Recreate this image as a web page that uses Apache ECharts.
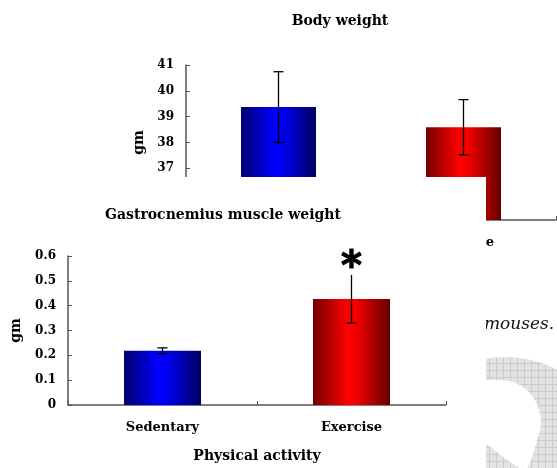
<!DOCTYPE html>
<html><head><meta charset="utf-8">
<script src="https://cdn.jsdelivr.net/npm/echarts@6/dist/echarts.min.js"></script>
<style>
html,body{margin:0;padding:0;background:#fff;}
#topChart{position:absolute;left:0;top:0;width:557px;height:468px;}
#bottomChart{position:absolute;left:0;top:177px;width:486px;height:291px;background:#fff;}
</style></head><body>
<div id="topChart"></div><div id="bottomChart"></div>
<script>
// ---- data ----
const categories = ['Sedentary', 'Exercise'];
const bodyWeightMean = [39.37, 38.59];
const bodyWeightErr = [1.37, 1.07];
const bodyAxis = { min: 35, max: 41, interval: 1 };
const bodyCapHigh = [true, true];
const gastroMean = [0.218, 0.427];
const gastroErr = [0.012, 0.097];
const gastroAxis = { min: 0, max: 0.6, interval: 0.1 };
const gastroCapHigh = [true, false];
const gastroMarks = ['', '*'];
const bodyTitle = 'Body weight';
const gastroTitle = 'Gastrocnemius muscle weight';
const xName = 'Physical activity';
const yName = 'gm';
const captionFragment = 'mouses.';

const SERIF = '"DejaVu Serif", "Liberation Serif", serif';
const blueGrad = { type: 'linear', x: 0, y: 0, x2: 1, y2: 0, colorStops: [
  { offset: 0, color: '#000070' }, { offset: 0.45, color: '#0000ff' }, { offset: 0.55, color: '#0000f4' }, { offset: 1, color: '#000060' }] };
const redGrad = { type: 'linear', x: 0, y: 0, x2: 1, y2: 0, colorStops: [
  { offset: 0, color: '#740000' }, { offset: 0.45, color: '#ff0000' }, { offset: 0.55, color: '#f60000' }, { offset: 1, color: '#660000' }] };
const barColors = [blueGrad, redGrad];

function errorSeries(means, errs, capHigh, marks) {
  return {
    type: 'custom',
    z: 5,
    data: means.map((m, i) => [i, m - errs[i], m + errs[i]]),
    encode: { x: 0, y: [1, 2] },
    renderItem(params, api) {
      const i = api.value(0);
      const lo = api.coord([i, api.value(1)]);
      const hi = api.coord([i, api.value(2)]);
      const hw = 5;
      const st = { stroke: '#000', lineWidth: 1.3 };
      const children = [
        { type: 'line', shape: { x1: lo[0], y1: lo[1], x2: hi[0], y2: hi[1] }, style: st },
        { type: 'line', shape: { x1: lo[0] - hw, y1: lo[1], x2: lo[0] + hw, y2: lo[1] }, style: st }
      ];
      if (capHigh[i]) children.push({ type: 'line', shape: { x1: hi[0] - hw, y1: hi[1], x2: hi[0] + hw, y2: hi[1] }, style: st });
      if (marks && marks[i]) children.push({ type: 'text', x: hi[0], y: hi[1] - 6,
        style: { text: marks[i], font: 'bold 40px "DejaVu Sans"', fill: '#000', stroke: '#000', lineWidth: 1, textAlign: 'center', textVerticalAlign: 'middle' } });
      return { type: 'group', children };
    }
  };
}

function axesOpts(yAxisDef, yGap) {
  const axisLine = { show: true, lineStyle: { color: '#555', width: 1.5 } };
  const tick = { show: true, inside: true, length: 4, lineStyle: { color: '#555', width: 1 } };
  return {
    xAxis: {
      type: 'category', data: categories, axisLine, axisTick: tick,
      axisLabel: { margin: 16, color: '#000', fontFamily: SERIF, fontWeight: 'bold', fontSize: 13 },
      name: xName, nameLocation: 'middle', nameGap: 44,
      nameTextStyle: { color: '#000', fontFamily: SERIF, fontWeight: 'bold', fontSize: 14 }
    },
    yAxis: {
      type: 'value', min: yAxisDef.min, max: yAxisDef.max, interval: yAxisDef.interval,
      axisLine, axisTick: tick, splitLine: { show: false },
      axisLabel: { margin: 12, color: '#000', fontFamily: SERIF, fontWeight: 'bold', fontSize: 12 },
      name: yName, nameLocation: 'middle', nameRotate: 90, nameGap: yGap,
      nameTextStyle: { color: '#000', fontFamily: SERIF, fontWeight: 'bold', fontSize: 14 }
    }
  };
}

// watermark pattern
const pat = document.createElement('canvas');
pat.width = 7; pat.height = 7;
const pc = pat.getContext('2d');
pc.fillStyle = '#e3e3e3'; pc.fillRect(0, 0, 7, 7);
pc.fillStyle = '#cbcbcb'; pc.fillRect(6, 0, 1, 7); pc.fillRect(0, 6, 7, 1);

const topChart = echarts.init(document.getElementById('topChart'));
topChart.setOption(Object.assign({
  animation: false,
  grid: { left: 186, top: 65, width: 370, height: 155 },
  series: [
    { type: 'bar', barWidth: 75, data: bodyWeightMean.map((v, i) => ({ value: v, itemStyle: { color: barColors[i] } })) },
    errorSeries(bodyWeightMean, bodyWeightErr, bodyCapHigh, null)
  ],
  graphic: [
    { type: 'circle', silent: true, z: -10, shape: { cx: 505, cy: 470, r: 113 }, style: { fill: { image: pat, repeat: 'repeat' } } },
    { type: 'polygon', silent: true, z: -9, shape: { smooth: 0.35, points: [[470, 386], [500, 380], [522, 386], [536, 402], [541, 422], [536, 444], [527, 468], [519, 468], [485, 443], [470, 432]] }, style: { fill: '#fff' } },
    { type: 'text', silent: true, x: 484, y: 325, style: { text: captionFragment, font: 'italic 17px "DejaVu Serif"', fill: '#111', textVerticalAlign: 'middle' } },
    { type: 'text', silent: true, x: 340, y: 21, style: { text: bodyTitle, font: 'bold 14px "DejaVu Serif"', fill: '#000', textAlign: 'center', textVerticalAlign: 'middle' } }
  ]
}, axesOpts(bodyAxis, 38)));

const bottomChart = echarts.init(document.getElementById('bottomChart'));
bottomChart.setOption(Object.assign({
  animation: false,
  backgroundColor: '#fff',
  grid: { left: 68, top: 79, width: 378, height: 153 },
  series: [
    { type: 'bar', barWidth: 77, data: gastroMean.map((v, i) => ({ value: v, itemStyle: { color: barColors[i] } })) },
    errorSeries(gastroMean, gastroErr, gastroCapHigh, gastroMarks)
  ],
  graphic: [
    { type: 'text', silent: true, x: 223, y: 38, style: { text: gastroTitle, font: 'bold 14px "DejaVu Serif"', fill: '#000', textAlign: 'center', textVerticalAlign: 'middle' } }
  ]
}, axesOpts(gastroAxis, 45)));
</script>
</body></html>
